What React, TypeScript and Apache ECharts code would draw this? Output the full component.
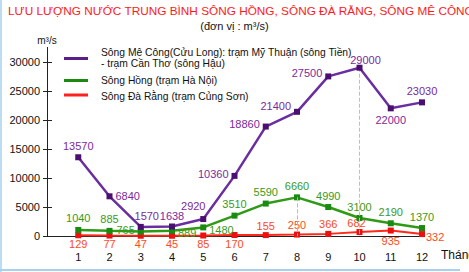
import React, { useEffect, useRef } from "react";
import * as echarts from "echarts";

const months = [1, 2, 3, 4, 5, 6, 7, 8, 9, 10, 11, 12];
const mekong = [13570, 6840, 1570, 1638, 2920, 10360, 18860, 21400, 27500, 29000, 22000, 23030];
const hong = [1040, 885, 765, 889, 1480, 3510, 5590, 6660, 4990, 3100, 2190, 1370];
const daRang = [129, 77, 47, 45, 85, 170, 155, 250, 366, 682, 935, 332];
const yTicks = [0, 5000, 10000, 15000, 20000, 25000, 30000];

const mekongPos: any[] = [
  ["top", [0, 0]], ["right", [0, 0]], ["top", [6, 1]], ["top", [0, 1]], ["top", [-10, -2]],
  ["left", [0, -2]], ["left", [0, -3]], ["left", [0, -6]], ["left", [0, -3]], ["top", [6, 4]],
  ["bottom", [0, 0]], ["top", [0, 0]],
];
const hongPos: any[] = [
  ["top", [0, 0]], ["top", [0, 0]], ["left", [0, -2]], ["right", [0, 2]], ["right", [0, 3]],
  ["top", [0, 0]], ["top", [0, 0]], ["top", [0, 0]], ["top", [0, 0]], ["top", [0, 0]],
  ["top", [0, 0]], ["top", [0, 0]],
];
const daPos: any[] = [
  ["bottom", [0, -1]], ["bottom", [0, -1]], ["bottom", [0, -1]], ["bottom", [0, -1]], ["bottom", [0, -1]],
  ["bottom", [0, -1]], ["top", [0, 0]], ["top", [0, 0]], ["top", [0, 0]], ["top", [-3, 0]],
  ["bottom", [0, 1]], ["right", [0, 3]],
];

const build = (vals: number[], pos: any[]) =>
  vals.map((v, i) => ({
    value: [months[i], v],
    label: { position: pos[i][0], offset: pos[i][1] },
  }));

export default function App() {
  const ref = useRef<HTMLDivElement>(null);
  useEffect(() => {
    const chart = echarts.init(ref.current!, null, { renderer: "svg" });
    const font = "Liberation Sans, Arial, sans-serif";
    chart.setOption({
      animation: false,
      backgroundColor: "#ffffff",
      textStyle: { fontFamily: font },
      title: [
        {
          text: "LƯU LƯỢNG NƯỚC TRUNG BÌNH SÔNG HỒNG, SÔNG ĐÀ RẰNG, SÔNG MÊ CÔNG",
          left: 3,
          top: 0,
          textStyle: { color: "#ff1a1a", fontSize: 11.8, fontWeight: "normal", fontFamily: font },
        },
        {
          text: "(đơn vị : m³/s)",
          left: "center",
          top: 15,
          textStyle: { color: "#111", fontSize: 11, fontWeight: "normal", fontFamily: font },
        },
      ],
      grid: { left: 47, right: 47, top: 47.4, bottom: 36, containLabel: false },
      xAxis: {
        type: "value",
        min: 0,
        max: 12,
        interval: 1,
        splitLine: { show: false },
        axisTick: { show: false },
        axisLine: { lineStyle: { color: "#222", width: 1 } },
        axisLabel: {
          margin: 15,
          color: "#111",
          fontSize: 11,
          formatter: (v: number) => (v >= 1 ? String(v) : ""),
        },
      },
      yAxis: [
        {
          type: "value",
          min: 0,
          max: 32500,
          interval: 2500,
          name: "m³/s",
          nameLocation: "end",
          nameGap: 2,
          nameTextStyle: { color: "#111", fontSize: 10, align: "center" },
          splitLine: { show: false },
          axisLine: { show: true, lineStyle: { color: "#222" } },
          axisTick: { show: true, length: 4, customValues: yTicks, lineStyle: { color: "#222" } },
          axisLabel: {
            margin: 7,
            color: "#111",
            fontSize: 11,
            customValues: yTicks,
            formatter: (v: number) => (v % 5000 === 0 ? String(v) : ""),
          },
        },
        {
          type: "value",
          position: "left",
          min: 0,
          max: 32500,
          interval: 2500,
          splitLine: { show: false },
          axisLine: { show: false },
          axisTick: { show: true, inside: true, length: 5, customValues: yTicks, lineStyle: { color: "#222" } },
          axisLabel: { show: false },
        },
      ],
      series: [
        {
          type: "line",
          data: build(daRang, daPos),
          symbol: "rect",
          symbolSize: 6,
          lineStyle: { color: "#ff2a1a", width: 2 },
          itemStyle: { color: "#ee1010" },
          label: { show: true, color: "#ff4a1a", fontSize: 11, distance: 1 },
          z: 3,
        },
        {
          type: "line",
          data: build(hong, hongPos),
          symbol: "rect",
          symbolSize: 6,
          lineStyle: { color: "#2e9a16", width: 2.5 },
          itemStyle: { color: "#1a8a10" },
          label: { show: true, color: "#3a9a1a", fontSize: 11, distance: 3 },
          markLine: {
            silent: true,
            symbol: "none",
            label: { show: false },
            lineStyle: { color: "#9ad08a", type: "dashed", width: 1 },
            data: [[{ coord: [months[7], hong[7]] }, { coord: [months[7], 0] }]],
          },
          z: 4,
        },
        {
          type: "line",
          data: build(mekong, mekongPos),
          symbol: "rect",
          symbolSize: 6,
          lineStyle: { color: "#6a2ea0", width: 2.5 },
          itemStyle: { color: "#4a0f70" },
          label: { show: true, color: "#7a2a9e", fontSize: 11, distance: 3 },
          markLine: {
            silent: true,
            symbol: "none",
            label: { show: false },
            lineStyle: { color: "#c8b0e8", type: "dashed", width: 1 },
            data: [[{ coord: [months[9], mekong[9]] }, { coord: [months[9], 0] }]],
          },
          z: 5,
        },
      ],
      graphic: [
        { type: "rect", shape: { x: 0, y: 0, width: 2, height: 272 }, style: { fill: "#bcdcf4" } },
        { type: "rect", shape: { x: 0, y: 269, width: 460, height: 2 }, style: { fill: "#a8d0f0" } },
        { type: "rect", shape: { x: 64, y: 57, width: 24, height: 3 }, style: { fill: "#5a1e8a" } },
        { type: "rect", shape: { x: 64, y: 79, width: 24, height: 3 }, style: { fill: "#1a8a10" } },
        { type: "rect", shape: { x: 64, y: 93.5, width: 24, height: 3 }, style: { fill: "#ff2020" } },
        {
          type: "text",
          x: 101,
          y: 46.5,
          style: {
            text: "Sông Mê Công(Cửu Long): trạm Mỹ Thuận (sông Tiền)\n- trạm Cần Thơ (sông Hậu)",
            font: "10.3px Liberation Sans, Arial, sans-serif",
            lineHeight: 11.5,
            fill: "#111",
          },
        },
        {
          type: "text",
          x: 101,
          y: 75,
          style: { text: "Sông Hồng (trạm Hà Nội)", font: "10.3px Liberation Sans, Arial, sans-serif", fill: "#111" },
        },
        {
          type: "text",
          x: 101,
          y: 91,
          style: { text: "Sông Đà Rằng (trạm Củng Sơn)", font: "10.3px Liberation Sans, Arial, sans-serif", fill: "#111" },
        },
        {
          type: "text",
          x: 441,
          y: 249,
          style: { text: "Tháng", font: "12px Liberation Sans, Arial, sans-serif", fill: "#111" },
        },
      ],
    });
    return () => chart.dispose();
  }, []);
  return (
    <div
      ref={ref}
      style={{ position: "fixed", left: 0, top: 0, width: 469, height: 272, background: "#fff" }}
    />
  );
}
